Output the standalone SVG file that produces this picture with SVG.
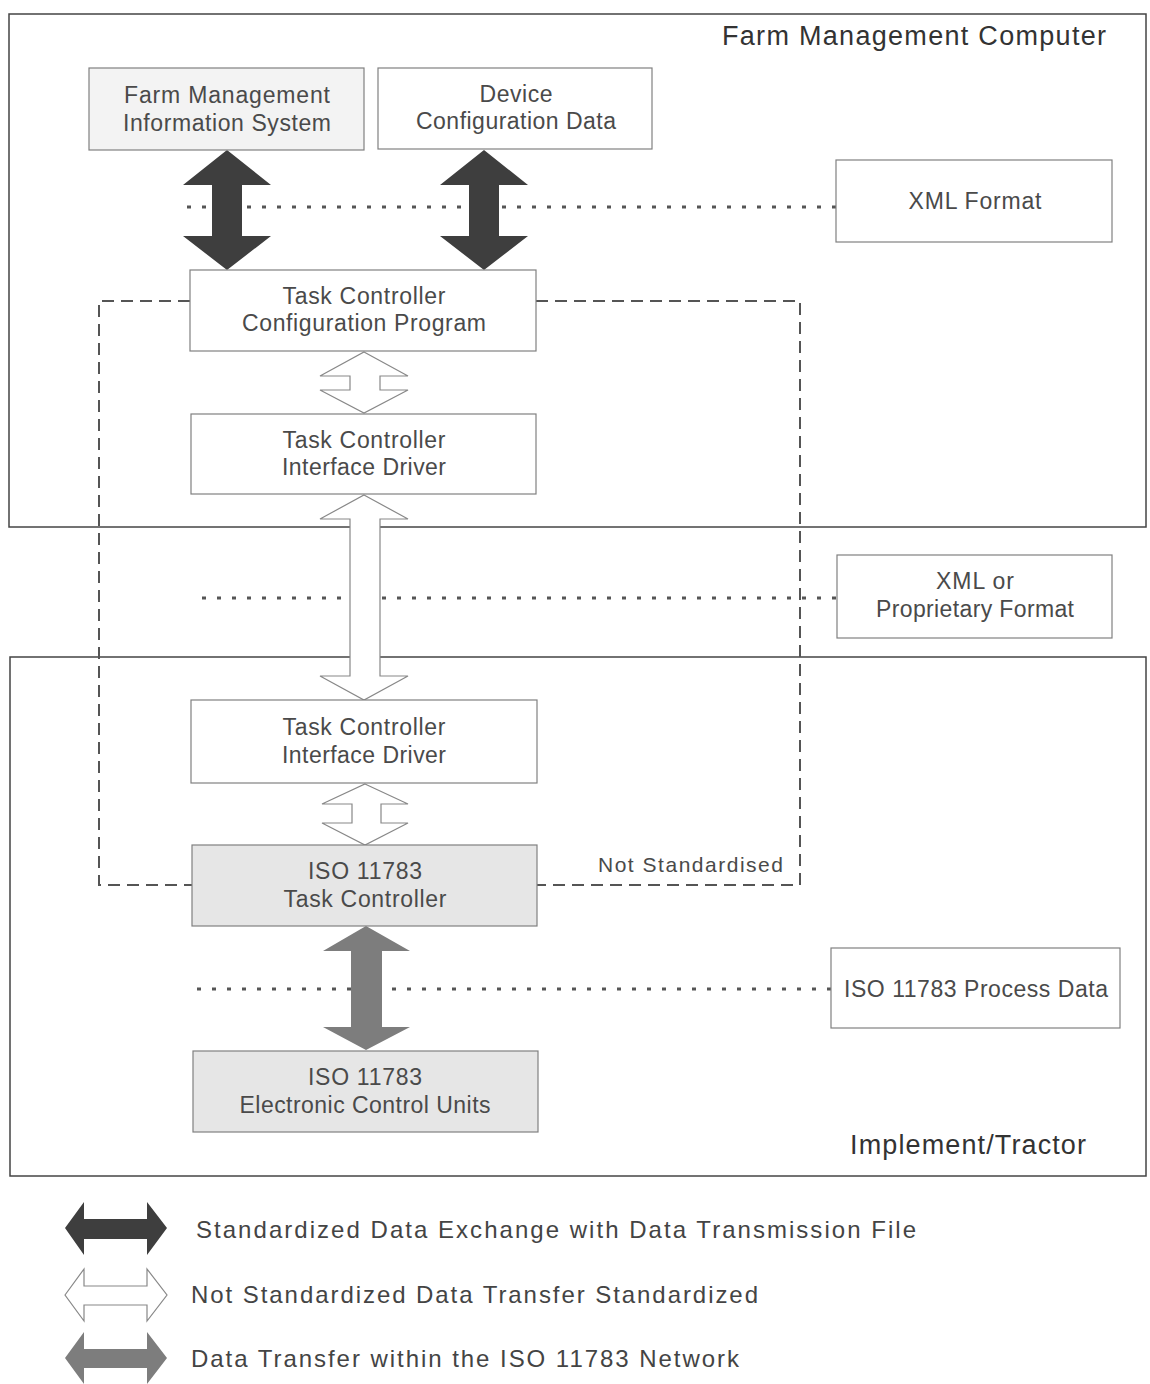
<svg xmlns="http://www.w3.org/2000/svg" width="1150" height="1384" viewBox="0 0 1150 1384">
<style>
text{font-family:"Liberation Sans",Arial,sans-serif;fill:#4a4a4a;text-anchor:middle}
.t{font-size:23px}
.title{font-size:27px;fill:#333;text-anchor:start}
.leg{font-size:24px;fill:#444;text-anchor:start}
.frame{fill:none;stroke:#444;stroke-width:1.5}
.box{fill:#fff;stroke:#808080;stroke-width:1.2}
.lt{fill:#f3f3f3}
.gr{fill:#e6e6e6}
.dot{fill:none;stroke:#555;stroke-width:3;stroke-dasharray:4 11}
.dash{fill:none;stroke:#555;stroke-width:2;stroke-dasharray:12 7}
.dark{fill:#3e3e3e}
.mid{fill:#7d7d7d}
.hol{fill:#fff;stroke:#888;stroke-width:1.2}
</style>
<rect width="1150" height="1384" fill="#fff"/>

<g id="frame-farm-computer">
<rect class="frame" x="9" y="14" width="1137" height="513"/>
<text class="title" x="722" y="45" textLength="384" lengthAdjust="spacing">Farm Management Computer</text>
</g>
<g id="frame-implement">
<rect class="frame" x="10" y="657" width="1136" height="519"/>
<text class="title" x="850" y="1154" textLength="236" lengthAdjust="spacing">Implement/Tractor</text>
</g>

<g id="connectors">
<line class="dot" x1="187" y1="207" x2="836" y2="207"/>
<line class="dot" x1="202" y1="598" x2="837" y2="598"/>
<line class="dot" x1="197" y1="989" x2="831" y2="989"/>
<polyline class="dash" points="190,301 99,301 99,885 192,885"/>
<polyline class="dash" points="536,301 800,301 800,885 537,885"/>
<polygon class="dark" points="227,150 271,185 242,185 242,236 271,236 227,270 183,236 212,236 212,185 183,185"/>
<polygon class="dark" points="484,150 528,185 499,185 499,236 528,236 484,270 440,236 469,236 469,185 440,185"/>
<polygon class="hol" points="364,352 408,376 380,376 380,390 408,390 364,413 320,390 350,390 350,376 320,376"/>
<polygon class="hol" points="364,495 408,519 380,519 380,676 408,676 364,700 320,676 350,676 350,519 320,519"/>
<polygon class="hol" points="365,784 408,804 381,804 381,823 408,823 365,845 322,823 352,823 352,804 322,804"/>
<polygon class="mid" points="366,926 410,951 382,951 382,1027 410,1027 366,1050 323,1027 351,1027 351,951 323,951"/>
<text x="598" y="872" style="font-size:21px;text-anchor:start" textLength="185" lengthAdjust="spacing">Not Standardised</text>
</g>

<g id="node-fmis">
<rect class="box lt" x="89" y="68" width="275" height="82"/>
<text class="t" x="227" y="103" textLength="206" lengthAdjust="spacing">Farm Management</text>
<text class="t" x="227" y="131" textLength="208" lengthAdjust="spacing">Information System</text>
</g>
<g id="node-device-config">
<rect class="box" x="378" y="68" width="274" height="81"/>
<text class="t" x="516" y="102" textLength="73" lengthAdjust="spacing">Device</text>
<text class="t" x="516" y="129" textLength="200" lengthAdjust="spacing">Configuration Data</text>
</g>
<g id="node-xml-format">
<rect class="box" x="836" y="160" width="276" height="82"/>
<text class="t" x="975" y="209" textLength="133" lengthAdjust="spacing">XML Format</text>
</g>
<g id="node-tc-config">
<rect class="box" x="190" y="270" width="346" height="81"/>
<text class="t" x="364" y="304" textLength="163" lengthAdjust="spacing">Task Controller</text>
<text class="t" x="364" y="331" textLength="244" lengthAdjust="spacing">Configuration Program</text>
</g>
<g id="node-driver-top">
<rect class="box" x="191" y="414" width="345" height="80"/>
<text class="t" x="364" y="448" textLength="163" lengthAdjust="spacing">Task Controller</text>
<text class="t" x="364" y="475" textLength="164" lengthAdjust="spacing">Interface Driver</text>
</g>
<g id="node-xml-proprietary">
<rect class="box" x="837" y="555" width="275" height="83"/>
<text class="t" x="975" y="589" textLength="78" lengthAdjust="spacing">XML or</text>
<text class="t" x="975" y="617" textLength="198" lengthAdjust="spacing">Proprietary Format</text>
</g>
<g id="node-driver-bottom">
<rect class="box" x="191" y="700" width="346" height="83"/>
<text class="t" x="364" y="735" textLength="163" lengthAdjust="spacing">Task Controller</text>
<text class="t" x="364" y="763" textLength="164" lengthAdjust="spacing">Interface Driver</text>
</g>
<g id="node-task-controller">
<rect class="box gr" x="192" y="845" width="345" height="81"/>
<text class="t" x="365" y="879" textLength="114" lengthAdjust="spacing">ISO 11783</text>
<text class="t" x="365" y="907" textLength="163" lengthAdjust="spacing">Task Controller</text>
</g>
<g id="node-process-data">
<rect class="box" x="831" y="948" width="289" height="80"/>
<text class="t" x="976" y="997" textLength="264" lengthAdjust="spacing">ISO 11783 Process Data</text>
</g>
<g id="node-ecu">
<rect class="box gr" x="193" y="1051" width="345" height="81"/>
<text class="t" x="365" y="1085" textLength="114" lengthAdjust="spacing">ISO 11783</text>
<text class="t" x="365" y="1113" textLength="251" lengthAdjust="spacing">Electronic Control Units</text>
</g>

<g id="legend">
<polygon class="dark" points="65,1228 84,1202 84,1219 147,1219 147,1202 167,1228 147,1255 147,1239 84,1239 84,1255"/>
<text class="leg" x="196" y="1238" textLength="720" lengthAdjust="spacing">Standardized Data Exchange with Data Transmission File</text>
<polygon class="hol" points="65,1295 84,1269 84,1286 147,1286 147,1269 167,1295 147,1321 147,1305 84,1305 84,1321"/>
<text class="leg" x="191" y="1303" textLength="567" lengthAdjust="spacing">Not Standardized Data Transfer Standardized</text>
<polygon class="mid" points="65,1358 84,1332 84,1349 147,1349 147,1332 167,1358 147,1384 147,1368 84,1368 84,1384"/>
<text class="leg" x="191" y="1367" textLength="548" lengthAdjust="spacing">Data Transfer within the ISO  11783 Network</text>
</g>
</svg>
